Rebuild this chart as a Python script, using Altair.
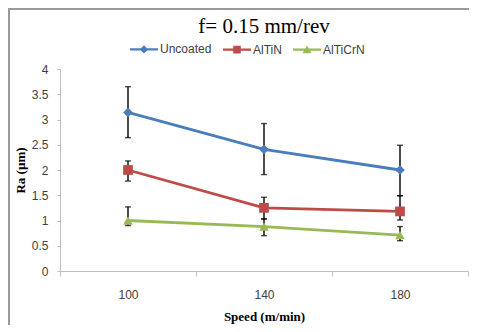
import altair as alt
import pandas as pd

speeds = ["100", "140", "180"]
series = ["Uncoated", "AlTiN", "AlTiCrN"]

uncoated = [3.14, 2.41, 2.00]
uncoated_hi = [3.65, 2.92, 2.49]
uncoated_lo = [2.64, 1.91, 1.49]

altin = [2.00, 1.25, 1.18]
altin_hi = [2.18, 1.46, 1.49]
altin_lo = [1.78, 1.03, 1.01]

altiCrN = [1.00, 0.88, 0.71]
altiCrN_hi = [1.27, 1.03, 0.88]
altiCrN_lo = [0.90, 0.70, 0.60]

y_ticks = [0, 0.5, 1, 1.5, 2, 2.5, 3, 3.5, 4]

colors = ["#4A7EBB", "#BE4B48", "#98B954"]
point_shapes = ["diamond", "square", "triangle-up"]

# legend symbols: a line segment with a small marker (all sub-paths clockwise)
bar = "M-1,-0.085L1,-0.085L1,0.085L-1,0.085Z"
legend_paths = [
    bar + "M0,-0.3L0.3,0L0,0.3L-0.3,0Z",
    bar + "M-0.27,-0.27L0.27,-0.27L0.27,0.27L-0.27,0.27Z",
    bar + "M0,-0.3L0.32,0.26L-0.32,0.26Z",
]

rows = []
for name, vals, his, los in [
    ("Uncoated", uncoated, uncoated_hi, uncoated_lo),
    ("AlTiN", altin, altin_hi, altin_lo),
    ("AlTiCrN", altiCrN, altiCrN_hi, altiCrN_lo),
]:
    for s, v, h, l in zip(speeds, vals, his, los):
        rows.append({"series": name, "speed": s, "value": v, "hi": h, "lo": l})
df = pd.DataFrame(rows)

label_font = "Liberation Sans"
serif = "Liberation Serif"

x_axis = alt.Axis(title="Speed (m/min)", labelAngle=0, tickBand="extent",
                  domainColor="#BFBFBF", tickColor="#BFBFBF", tickSize=5,
                  labelPadding=13, labelFont=label_font, labelFontSize=12,
                  labelColor="#404040", titleFont=serif, titleFontSize=13,
                  titleFontWeight="bold", titleColor="#000000", titlePadding=10,
                  grid=False)
x_scale = alt.Scale(type="band", domain=speeds, paddingInner=0, paddingOuter=0)
y_axis = alt.Axis(title="Ra (µm)", values=y_ticks, format="~g", labelOverlap=False,
                  domainColor="#BFBFBF", tickColor="#BFBFBF", tickSize=3, labelPadding=9,
                  labelFont=label_font, labelFontSize=12, labelColor="#404040",
                  titleFont=serif, titleFontSize=13, titleFontWeight="bold",
                  titleColor="#000000", titlePadding=4, grid=False)
y_scale = alt.Scale(domain=[0, 4], nice=False)


def X():
    return alt.X("speed:N", sort=speeds, scale=x_scale, axis=x_axis)


def Y(field):
    return alt.Y(field, type="quantitative", scale=y_scale, axis=y_axis)


base = alt.Chart(df)

line_layers = []
point_layers = []
for name, shp, col in zip(series, point_shapes, colors):
    sub = base.transform_filter(alt.datum.series == name)
    line_layers.append(
        sub.mark_line(strokeWidth=2.8, color=col).encode(x=X(), y=Y("value"))
    )
    point_layers.append(
        sub.mark_point(filled=True, opacity=1, size=95, shape=shp, color=col)
        .encode(x=X(), y=Y("value"))
    )

err_rule = base.mark_rule(color="black", strokeWidth=1.4).encode(
    x=X(), y=Y("lo"), y2="hi:Q")
err_hi = base.mark_tick(color="black", size=6, thickness=1.4).encode(x=X(), y=Y("hi"))
err_lo = base.mark_tick(color="black", size=6, thickness=1.4).encode(x=X(), y=Y("lo"))

leg = alt.Legend(
    title=None, orient="none", legendX=69, legendY=-35, direction="horizontal",
    symbolSize=784, labelFont=label_font, labelFontSize=12, labelColor="#404040",
    labelOffset=1, columnPadding=8, symbolOpacity=1, padding=0,
)

legend_layer = base.mark_point(filled=True, size=0, opacity=1).encode(
    x=X(), y=Y("value"),
    color=alt.Color("series:N", scale=alt.Scale(domain=series, range=colors), legend=leg),
    shape=alt.Shape("series:N", scale=alt.Scale(domain=series, range=legend_paths), legend=leg),
)

one = pd.DataFrame({"a": [0]})
border_top = alt.Chart(one).mark_rule(stroke="#9A9A9A", strokeWidth=2).encode(
    x=alt.value(-53), x2=alt.value(480), y=alt.value(-60))
border_left = alt.Chart(one).mark_rule(stroke="#9A9A9A", strokeWidth=2).encode(
    x=alt.value(-51), y=alt.value(-61), y2=alt.value(300))

title_df = pd.DataFrame({"t": ["f= 0.15 mm/rev"]})
title = alt.Chart(title_df).mark_text(
    font=serif, fontSize=21, color="#000000", baseline="alphabetic", align="center").encode(
    text="t:N", x=alt.value(204), y=alt.value(-36))

chart = alt.layer(border_top, border_left, *line_layers, err_rule, err_hi, err_lo,
                  *point_layers, legend_layer, title).properties(
    width=408, height=202,
    autosize=alt.AutoSizeParams(type="none"),
    padding={"left": 52, "top": 61, "right": 1, "bottom": 54},
).configure_view(stroke=None)

chart.save("out.html", embed_options={"renderer": "svg", "actions": False})
